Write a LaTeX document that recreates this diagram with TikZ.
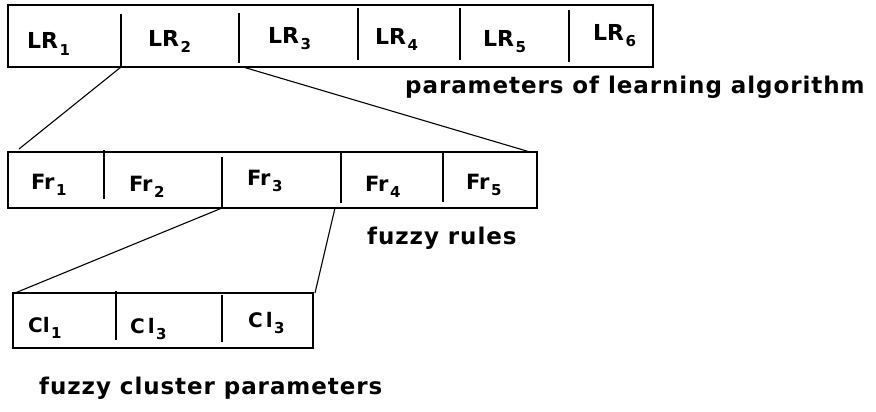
\documentclass[tikz,border=0pt]{standalone}
\usepackage{fontspec}
\newfontfamily\cellfont{DejaVu Sans}
\newfontfamily\captionfont{DejaVu Sans}[LetterSpace=4]
\newcommand\cellsub[1]{\kern1.5pt\lower6pt\hbox{\fontsize{15}{15}\selectfont #1}}
\usetikzlibrary{positioning}

\begin{document}
\begin{tikzpicture}[
		x=1pt, y=-1pt,
		row box/.style={draw, line width=1.6pt, inner sep=0pt, outer sep=0pt, anchor=north west},
		divider/.style={line width=1.6pt},
		link/.style={line width=1.1pt},
		cell label/.style={anchor=base west, inner sep=0pt, font=\cellfont\bfseries\fontsize{#1}{#1}\selectfont},
		cell label/.default=20,
		caption/.style={anchor=base west, inner sep=0pt, font=\captionfont\bfseries\fontsize{23}{27}\selectfont}
		]
		
		\useasboundingbox (0,0) rectangle (876,412);
		
		% ==========================================
		% 1. LEARNING ALGORITHM PARAMETERS
		% ==========================================
		
		\node[row box, minimum width=645pt, minimum height=62pt] (lr row) at (8,5) {};
		\foreach \x/\ya/\yb in {121/14/67, 239/13/63, 358/8/60, 460/8/60, 569/10/62}
			\draw[divider] (\x,\ya) -- (\x,\yb);
		\foreach \x/\y/\n in {27/49/1, 148/47/2, 268/44/3, 375/45/4, 483/47/5, 593/41/6}
			\node[cell label=22] (lr \n) at (\x,\y) {LR\cellsub{\n}};
		\node[caption] (lr caption) at (405,94) {parameters of learning algorithm};
		
		% ==========================================
		% 2. FUZZY RULES
		% ==========================================
		
		\node[row box, minimum width=529pt, minimum height=56pt] (fr row) at (8,152) {};
		\foreach \x/\ya/\yb in {104/150/199, 222/157/208, 341/152/203, 443/152/202}
			\draw[divider] (\x,\ya) -- (\x,\yb);
		\foreach \x/\y/\n in {31/189/1, 129/191/2, 247/185/3, 365/191/4, 466/189/5}
			\node[cell label=21] (fr \n) at (\x,\y) {Fr\cellsub{\n}};
		\node[caption] (fr caption) at (367,244) {fuzzy rules};
		
		% ==========================================
		% 3. FUZZY CLUSTER PARAMETERS
		% ==========================================
		
		\node[row box, minimum width=300pt, minimum height=55pt] (cl row) at (13,293) {};
		\foreach \x/\ya/\yb in {116/291/340, 222/295/342}
			\draw[divider] (\x,\ya) -- (\x,\yb);
		\node[cell label] (cl 1) at (28,332) {Cl\cellsub{1}};
		\node[cell label] (cl 2) at (130,333) {C\kern3pt l\cellsub{3}};
		\node[cell label] (cl 3) at (248,327) {C\kern3pt l\cellsub{3}};
		\node[caption] (cl caption) at (39,394) {fuzzy cluster parameters};
		
		% Zoom lines between the rows
		\coordinate (lr cut 1) at (121,67);
		\coordinate (lr cut 2) at (243,67);
		\coordinate (fr cut 1) at (222,208);
		\coordinate (fr cut 2) at (335,208);
		\draw[link] (lr cut 1) -- ([xshift=11pt, yshift=3pt]fr row.north west);
		\draw[link] (lr cut 2) -- ([xshift=-7pt]fr row.north east);
		\draw[link] (fr cut 1) -- ([xshift=2pt]cl row.north west);
		\draw[link] (fr cut 2) -- ([xshift=2pt]cl row.north east);
		
	\end{tikzpicture}
\end{document}
